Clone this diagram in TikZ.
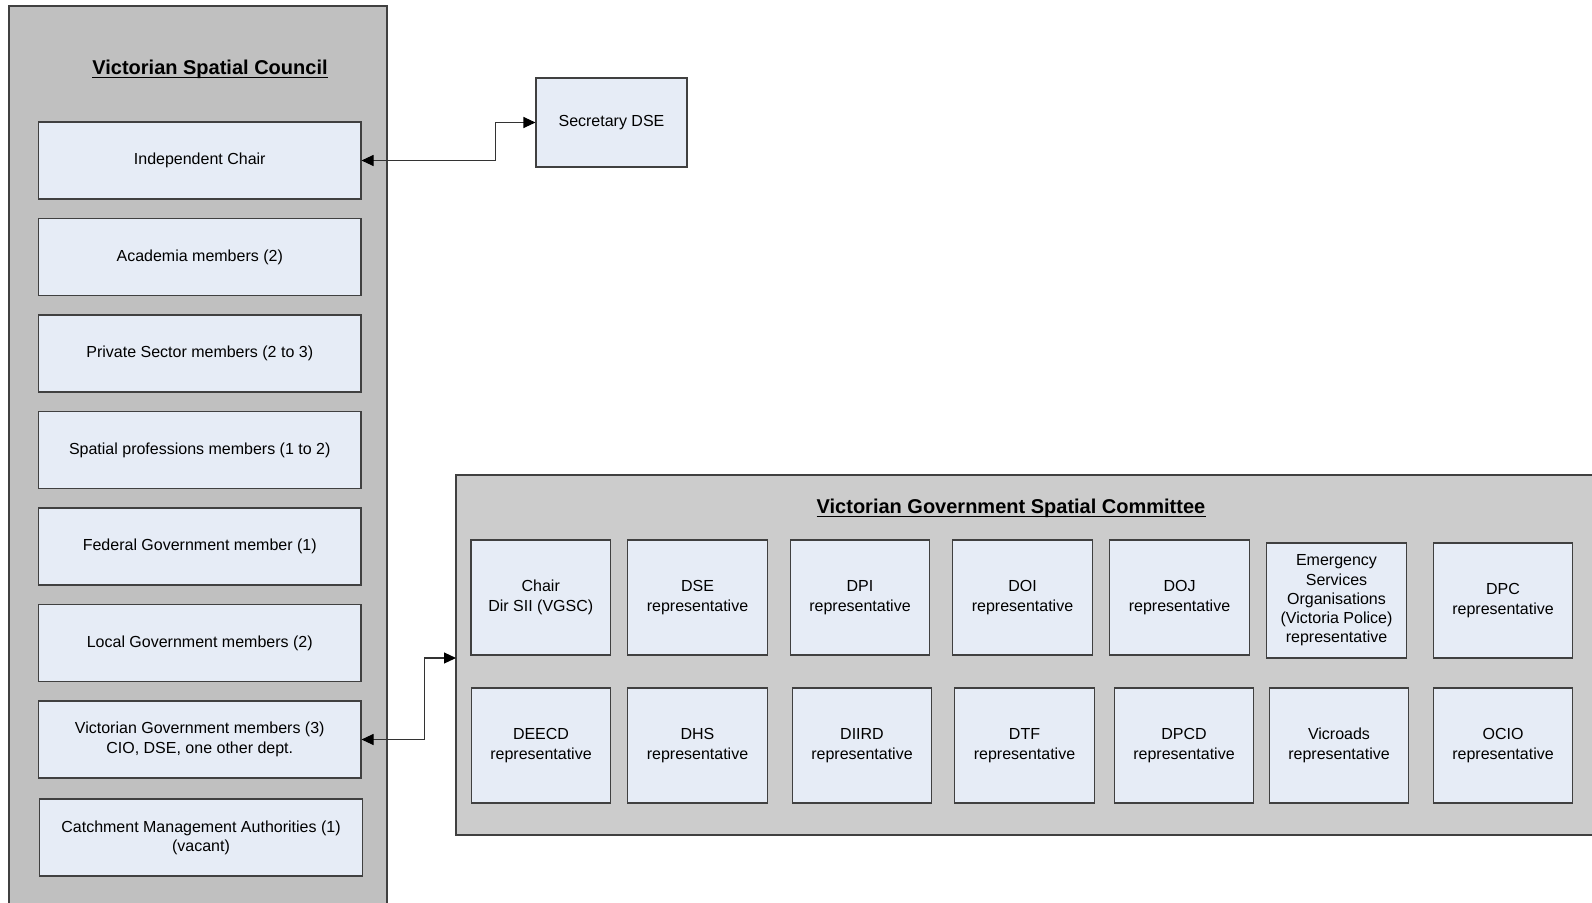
\documentclass[tikz,border=0pt]{standalone}
\usepackage{fontspec}
\setmainfont{Liberation Sans}
\usetikzlibrary{arrows.meta}
\definecolor{councilgrey}{HTML}{C0C0C0}
\definecolor{commgrey}{HTML}{CCCCCC}
\definecolor{boxfill}{HTML}{E6ECF6}
\definecolor{edgecol}{HTML}{404040}
\begin{document}
\begin{tikzpicture}[x=1pt,y=-1pt,
 member/.style={draw=edgecol, fill=boxfill, line width=1.1pt, minimum width=322.5pt, minimum height=77pt, inner sep=0pt, align=center, font=\fontsize{16}{19.3}\selectfont},
 rep/.style={member, minimum width=139.5pt, minimum height=115pt},
 titletext/.style={font=\fontsize{20}{24}\selectfont\bfseries, inner sep=0pt, anchor=base},
 frame/.style={draw=edgecol, line width=1.1pt},
 link/.style={draw=black!80, line width=1.1pt, {Triangle[length=12pt,width=11pt,fill=black,color=black]}-{Triangle[length=12pt,width=11pt,fill=black,color=black]}}
]
\useasboundingbox (0,0) rectangle (1592,902);
\fill[white] (0,0) rectangle (1592,902);

% Council container
\fill[councilgrey] (9,6) rectangle (387,910);
\draw[frame] (9,910) -- (9,6) -- (387,6) -- (387,910);
\node[titletext] (ct) at (210,74) {Victorian Spatial Council};
\draw[line width=1.6pt] ([yshift=-3.5pt]ct.base west) -- ([yshift=-3.5pt]ct.base east);

\node[member] (ic)  at (199.75,160.5) {Independent Chair};
\node[member] (ac)  at (199.75,257)   {Academia members (2)};
\node[member] (ps)  at (199.75,353.5) {Private Sector members (2 to 3)};
\node[member] (sp)  at (199.75,450)   {Spatial professions members (1 to 2)};
\node[member] (fg)  at (199.75,546.5) {Federal Government member (1)};
\node[member] (lg)  at (199.75,643)   {Local Government members (2)};
\node[member] (vg)  at (199.75,739.5) {Victorian Government members (3)\\CIO, DSE, one other dept.};
\node[member] (cma) at (201,837.5)    {Catchment Management Authorities (1)\\(vacant)};

% Secretary
\node[member, minimum width=151pt, minimum height=89pt] (sec) at (611.5,122.5) {Secretary DSE};

% Committee container
\fill[commgrey] (456,475) rectangle (1600,835);
\draw[frame] (1600,475) -- (456,475) -- (456,835) -- (1600,835);
\coordinate (cw) at (456,658);
\node[titletext] (vt) at (1011,513) {Victorian Government Spatial Committee};
\draw[line width=1.6pt] ([yshift=-3.5pt]vt.base west) -- ([yshift=-3.5pt]vt.base east);

\node[rep] (chair) at (540.75,597.5) {Chair\\Dir SII (VGSC)};
\node[rep] (dse)   at (697.5,597.5)  {DSE\\representative};
\node[rep] (dpi)   at (860,597.5)    {DPI\\representative};
\node[rep] (doi)   at (1022.5,597.5) {DOI\\representative};
\node[rep] (doj)   at (1179.5,597.5) {DOJ\\representative};
\node[rep] (eso)   at (1336.5,600.5) {Emergency\\Services\\Organisations\\(Victoria Police)\\representative};
\node[rep] (dpc)   at (1503,600.5)   {DPC\\representative};

\node[rep] (deecd) at (541,745.5)    {DEECD\\representative};
\node[rep] (dhs)   at (697.5,745.5)  {DHS\\representative};
\node[rep] (diird) at (862,745.5)    {DIIRD\\representative};
\node[rep] (dtf)   at (1024.5,745.5) {DTF\\representative};
\node[rep] (dpcd)  at (1184,745.5)   {DPCD\\representative};
\node[rep] (vic)   at (1339,745.5)   {Vicroads\\representative};
\node[rep] (ocio)  at (1503,745.5)   {OCIO\\representative};

% Connectors
\draw[link] (ic.east) -- ++(134,0) |- (sec.west);
\draw[link] (vg.east) -- ++(63,0) |- (cw);
\end{tikzpicture}
\end{document}
